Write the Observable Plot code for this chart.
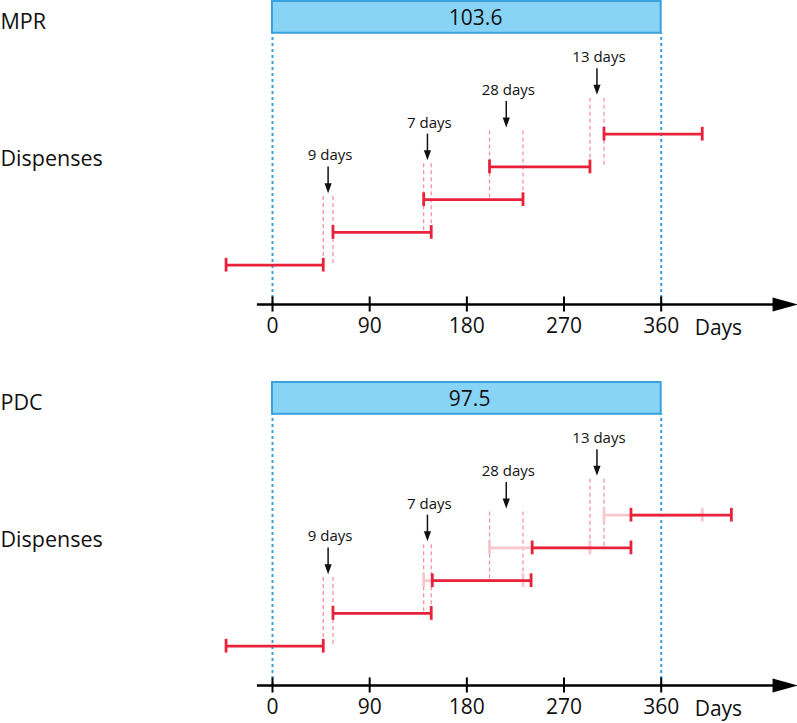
<!DOCTYPE html>
<html><head><meta charset="utf-8">
<script src="https://cdn.jsdelivr.net/npm/d3@7"></script>
<script src="https://cdn.jsdelivr.net/npm/@observablehq/plot@0.6"></script>
<style>html,body{margin:0;background:#fff} svg{display:block}</style>
</head><body><div id="chart"></div>
<script>
// ---- data (days) ----
const ticks = [0, 90, 180, 270, 360];
const period = [0, 360];
const gapLabels = ["9 days", "7 days", "28 days", "13 days"];
const mprStart = [-43, 56, 140, 201, 307];
const mprEnd   = [47, 147, 232, 294, 398];
const pdcStart = [-43, 56, 148, 240.5, 332];
const pdcEnd   = [47, 147, 239.5, 332, 425];
const panelNames = ["MPR", "PDC"];
const panelValues = ["103.6", "97.5"];
const axisTitle = "Days";
const rowLabel = "Dispenses";

// ---- styles ----
const RED = "#e8223a", PALE = "#f9c6cd", PINK = "#f38b9a";
const BLUE_FILL = "#87d4f7", BLUE = "#3aa2dc";
const FONT = "Open Sans";
const axisY = -0.2, barY1 = 8.08, barY2 = 9.05;

const rightTri = {draw(c) { c.moveTo(0, 0); c.lineTo(-25, -7); c.lineTo(-25, 7); c.closePath(); }};
const downTri = {draw(c) { c.moveTo(0, 0); c.lineTo(-3.6, -10); c.lineTo(3.6, -10); c.closePath(); }};

function segs(starts, ends) {
  return starts.map((s, i) => ({start: s, end: ends[i], level: i + 1}));
}
function caps(list) {
  return list.flatMap(d => [{x: d.start, level: d.level}, {x: d.end, level: d.level}]);
}

function panel(idx, height) {
  const original = segs(mprStart, mprEnd);
  const solid = idx === 0 ? original : segs(pdcStart, pdcEnd);
  const pale = idx === 0 ? [] : original.filter((d, i) => pdcStart[i] !== mprStart[i]);
  const gaps = gapLabels.map((label, i) => ({
    a: mprEnd[i], b: mprStart[i + 1], lower: i + 1, upper: i + 2, label
  }));
  const gapLines = gaps.flatMap(g => [{x: g.a, lower: g.lower, upper: g.upper}, {x: g.b, lower: g.lower, upper: g.upper}]);
  const mid = g => (g.a + g.b) / 2;

  return Plot.plot({
    width: 797,
    height,
    margin: 0,
    style: {fontFamily: FONT, background: "#fff", overflow: "visible"},
    x: {domain: [0, 360], range: [272, 660.7], axis: null},
    y: {domain: [-0.2, 9.05], range: [304, 1], axis: null},
    marks: [
      // observation bar
      Plot.rect([period], {x1: d => d[0], x2: d => d[1], y1: barY1, y2: barY2, fill: BLUE_FILL, stroke: BLUE, strokeWidth: 2}),
      Plot.text([panelValues[idx]], {x: (period[0] + period[1]) / 2, y: (barY1 + barY2) / 2, dx: -18, dy: 1, text: d => d, textAnchor: "start", fontSize: 21, fill: "#111"}),
      // blue dashed period boundaries
      Plot.ruleX(period, {x: d => d, y1: axisY, y2: barY1, stroke: BLUE, strokeWidth: 2, strokeDasharray: "3,3"}),
      // pink dashed gap markers
      Plot.ruleX(gapLines, {x: "x", y1: d => d.lower + 0.05, y2: d => d.upper + 1.1, stroke: PINK, strokeWidth: 1.2, strokeDasharray: "4,3"}),
      // pale original positions (PDC)
      Plot.ruleY(pale, {x1: "start", x2: "end", y: "level", stroke: PALE, strokeWidth: 2.8}),
      Plot.ruleX(caps(pale), {x: "x", y1: d => d.level - 0.21, y2: d => d.level + 0.21, stroke: PALE, strokeWidth: 2.8}),
      // dispenses
      Plot.ruleY(solid, {x1: "start", x2: "end", y: "level", stroke: RED, strokeWidth: 2.8}),
      Plot.ruleX(caps(solid), {x: "x", y1: d => d.level - 0.21, y2: d => d.level + 0.21, stroke: RED, strokeWidth: 2.8}),
      // arrows + labels
      Plot.ruleX(gaps, {x: mid, y1: d => d.upper + 1.45, y2: d => d.upper + 2.0, stroke: "#111", strokeWidth: 1.5}),
      Plot.dot(gaps, {x: mid, y: d => d.upper + 1.2, symbol: downTri, r: 4, fill: "#111", stroke: "none"}),
      Plot.text(gaps, {x: mid, y: d => d.upper + 2.35, text: "label", fontSize: 15, fill: "#111", dx: 2}),
      // x axis with arrow
      Plot.ruleY([axisY], {x1: -14, x2: 466, stroke: "#000", strokeWidth: 2.5}),
      Plot.dot([486.3], {x: d => d, y: axisY, symbol: rightTri, r: 4, fill: "#000", stroke: "none"}),
      Plot.ruleX(ticks, {x: d => d, y1: axisY - 0.23, y2: axisY + 0.23, stroke: "#000", strokeWidth: 2}),
      Plot.text(ticks, {x: d => d, y: axisY, dy: 22, text: d => String(d), fontSize: 21, fill: "#111"}),
      Plot.text([axisTitle], {x: period[1] + 31, y: axisY, dy: 24, text: d => d, textAnchor: "start", fontSize: 21, fill: "#111"}),
      // left labels
      Plot.text([panelNames[idx]], {frameAnchor: "left", y: 8.41, text: d => d, textAnchor: "start", fontSize: 21.5, fill: "#111"}),
      Plot.text([rowLabel], {frameAnchor: "left", y: 4.23, text: d => d, textAnchor: "start", fontSize: 21.5, fill: "#111"})
    ]
  });
}

const root = document.getElementById("chart");
root.append(panel(0, 381), panel(1, 342));
</script>
</body></html>
